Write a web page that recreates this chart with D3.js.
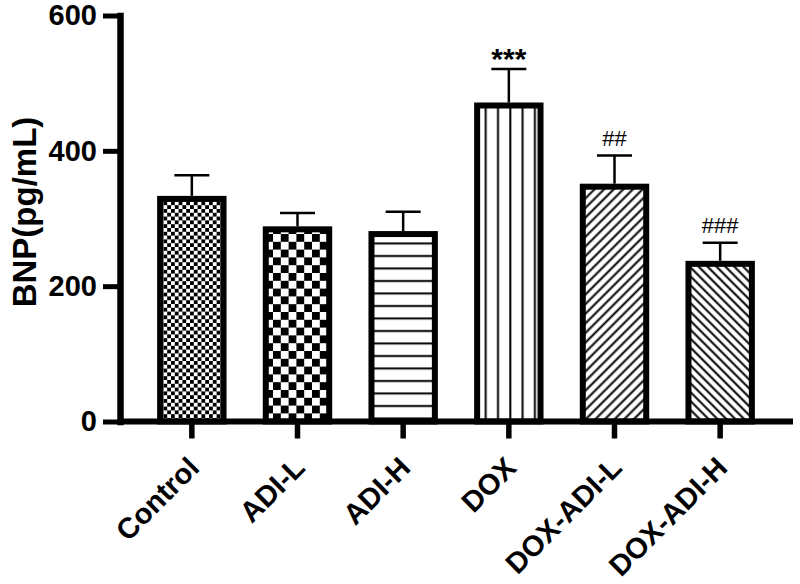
<!DOCTYPE html>
<html>
<head>
<meta charset="utf-8">
<script src="https://cdn.jsdelivr.net/npm/d3@7"></script>
<style>
  body { margin: 0; background: #fff; }
  svg { display: block; font-family: "Liberation Sans", Arial, sans-serif; }
</style>
</head>
<body>
<div id="chart"></div>
<script>
// Data
const groups = ["Control", "ADI-L", "ADI-H", "DOX", "DOX-ADI-L", "DOX-ADI-H"];
const means = [329, 284, 277, 467, 347, 233];
const errors = [35, 24, 33, 54, 46, 31];
const marks = ["", "", "", "***", "##", "###"];
const patterns = ["checkSmall", "checkLarge", "hLines", "vLines", "diagUp", "diagDown"];
const yTicks = [0, 200, 400, 600];

const width = 800, height = 584;
const margin = { top: 15.5, right: 27, bottom: 163.5, left: 120 };

const svg = d3.select("#chart")
    .append("svg")
    .attr("width", width)
    .attr("height", height);

// Fill patterns
const defs = svg.append("defs");

function checker(id, c) {
    const p = defs.append("pattern").attr("id", id)
        .attr("patternUnits", "userSpaceOnUse")
        .attr("width", 2 * c).attr("height", 2 * c);
    p.append("rect").attr("width", 2 * c).attr("height", 2 * c).attr("fill", "#fff");
    p.append("rect").attr("width", c).attr("height", c).attr("fill", "#000");
    p.append("rect").attr("x", c).attr("y", c).attr("width", c).attr("height", c).attr("fill", "#000");
}
checker("checkSmall", 3.8);
checker("checkLarge", 7.8);

function lines(id, w, h, d, sw, rot) {
    const p = defs.append("pattern").attr("id", id)
        .attr("patternUnits", "userSpaceOnUse")
        .attr("width", w).attr("height", h);
    if (rot) p.attr("patternTransform", "rotate(" + rot + ")");
    p.append("rect").attr("width", w).attr("height", h).attr("fill", "#fff");
    p.append("path").attr("d", d).attr("stroke", "#000").attr("stroke-width", sw);
}
lines("hLines", 10, 12.5, "M0,6 H10", 2);
lines("vLines", 12.3, 10, "M6,0 V10", 2);
lines("diagUp", 6.8, 10, "M3.4,0 V10", 2, 45);
lines("diagDown", 6.3, 10, "M3.1,0 V10", 2, -45);

const x = d3.scaleBand()
    .domain(groups)
    .range([139, 773])
    .padding(0);

const y = d3.scaleLinear()
    .domain([0, 600])
    .range([height - margin.bottom + 1, margin.top]);

const barW = x.bandwidth() * 0.6;

// Bars
svg.selectAll("rect.bar")
    .data(groups)
    .join("rect")
    .classed("bar", true)
    .attr("x", d => x(d) + (x.bandwidth() - barW) / 2)
    .attr("y", (d, i) => y(means[i]))
    .attr("width", barW)
    .attr("height", (d, i) => y(0) - y(means[i]))
    .attr("fill", (d, i) => "url(#" + patterns[i] + ")")
    .attr("stroke", "#000")
    .attr("stroke-width", 6);

// Error bars (upper only)
const cx = d => x(d) + x.bandwidth() / 2;
svg.selectAll("line.err")
    .data(groups)
    .join("line")
    .classed("err", true)
    .attr("x1", cx).attr("x2", cx)
    .attr("y1", (d, i) => y(means[i]) - 3)
    .attr("y2", (d, i) => y(means[i] + errors[i]))
    .attr("stroke", "#000").attr("stroke-width", 2.5);
svg.selectAll("line.cap")
    .data(groups)
    .join("line")
    .classed("cap", true)
    .attr("x1", d => cx(d) - 17.5).attr("x2", d => cx(d) + 17.5)
    .attr("y1", (d, i) => y(means[i] + errors[i]))
    .attr("y2", (d, i) => y(means[i] + errors[i]))
    .attr("stroke", "#000").attr("stroke-width", 2.5);

// Significance marks
svg.selectAll("text.mark")
    .data(groups)
    .join("text")
    .classed("mark", true)
    .attr("x", cx)
    .attr("y", (d, i) => y(means[i] + errors[i]) - (marks[i].startsWith("*") ? 0 : 10))
    .attr("text-anchor", "middle")
    .style("font-size", (d, i) => marks[i].startsWith("*") ? "30px" : "22px")
    .style("font-weight", "normal")
    .style("font-weight", (d, i) => marks[i].startsWith("*") ? "bold" : "normal")
    .text((d, i) => marks[i]);

// Y axis
const yAxis = svg.append("g")
    .attr("transform", "translate(" + margin.left + ",0)")
    .call(d3.axisLeft(y).tickValues(yTicks).tickSize(17).tickSizeOuter(0).tickPadding(6));
yAxis.select(".domain").attr("stroke-width", 6.5).attr("stroke-linecap", "square");
yAxis.selectAll(".tick line").attr("stroke-width", 5);
yAxis.selectAll(".tick text")
    .style("font-size", "29px").style("font-weight", "bold").attr("fill", "#000");

// X axis
const xAxis = svg.append("g")
    .attr("transform", "translate(0," + y(0) + ")")
    .call(d3.axisBottom(x).tickSize(17).tickSizeOuter(0));
xAxis.select(".domain").remove();
xAxis.append("line")
    .attr("x1", margin.left).attr("x2", width - 7)
    .attr("stroke", "#000").attr("stroke-width", 6);
xAxis.selectAll(".tick line").attr("stroke-width", 5.5);
xAxis.selectAll(".tick text")
    .attr("x", 0).attr("y", 0).attr("dy", 0)
    .attr("text-anchor", "end")
    .attr("transform", "translate(9,48) rotate(-45)")
    .style("font-size", "29px").style("font-weight", "bold").attr("fill", "#000");

// Y label
svg.append("text")
    .attr("transform", "translate(36,212) rotate(-90)")
    .attr("text-anchor", "middle")
    .style("font-size", "33px")
    .style("font-weight", "bold")
    .text("BNP(pg/mL)");
</script>
</body>
</html>
